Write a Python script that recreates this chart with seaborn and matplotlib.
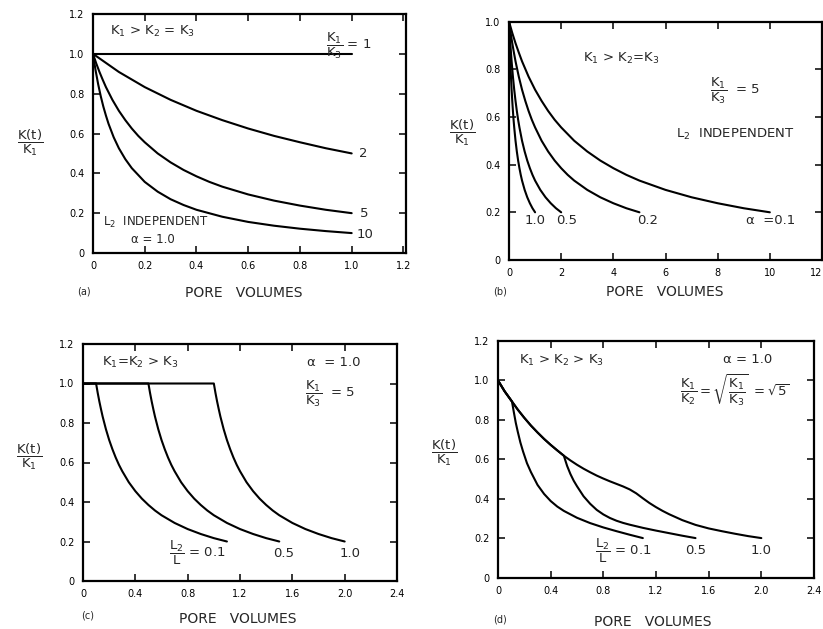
import matplotlib
matplotlib.use("Agg")
import matplotlib.pyplot as plt
import seaborn as sns

# ---------------------------------------------------------------------------
# Panel (a): K1 > K2 = K3, L2 independent, alpha = 1.0 ; curves labelled K1/K3
# ---------------------------------------------------------------------------
a_x_r1 = [0.0, 1.0]
a_y_r1 = [1.0, 1.0]
a_x_r2 = [0.0, 0.1, 0.2, 0.3, 0.4, 0.5, 0.6, 0.7, 0.8, 0.9, 1.0]
a_y_r2 = [1.0, 0.909, 0.833, 0.769, 0.714, 0.667, 0.625, 0.588, 0.556, 0.526, 0.500]
a_x_r5 = [0.0, 0.0125, 0.025, 0.0375, 0.05, 0.075, 0.1, 0.125, 0.15, 0.175, 0.2,
          0.25, 0.3, 0.35, 0.4, 0.45, 0.5, 0.6, 0.7, 0.8, 0.9, 1.0]
a_y_r5 = [1.0, 0.952, 0.909, 0.870, 0.833, 0.769, 0.714, 0.667, 0.625, 0.588, 0.556,
          0.500, 0.455, 0.417, 0.385, 0.357, 0.333, 0.294, 0.263, 0.238, 0.217, 0.200]
a_x_r10 = [0.0, 0.005, 0.01, 0.02, 0.03, 0.04, 0.05, 0.06, 0.08, 0.1, 0.125, 0.15,
           0.2, 0.25, 0.3, 0.35, 0.4, 0.5, 0.6, 0.7, 0.8, 0.9, 1.0]
a_y_r10 = [1.0, 0.957, 0.917, 0.847, 0.787, 0.735, 0.690, 0.649, 0.581, 0.526, 0.471,
           0.426, 0.357, 0.308, 0.270, 0.241, 0.217, 0.182, 0.156, 0.137, 0.122, 0.110,
           0.100]
a_curve_labels = ["2", "5", "10"]
a_xticks = [0, 0.2, 0.4, 0.6, 0.8, 1.0, 1.2]
a_xticklabels = ["0", "0.2", "0.4", "0.6", "0.8", "1.0", "1.2"]
a_yticks = [0, 0.2, 0.4, 0.6, 0.8, 1.0, 1.2]
a_yticklabels = ["0", "0.2", "0.4", "0.6", "0.8", "1.0", "1.2"]

# ---------------------------------------------------------------------------
# Panel (b): K1 > K2 = K3, K1/K3 = 5, L2 independent ; curves labelled alpha
# ---------------------------------------------------------------------------
b_y = [1.0, 0.952, 0.909, 0.870, 0.833, 0.769, 0.714, 0.667, 0.625, 0.588, 0.556,
       0.500, 0.455, 0.417, 0.385, 0.357, 0.333, 0.294, 0.263, 0.238, 0.217, 0.200]
b_x_alpha10 = [0.0, 0.0125, 0.025, 0.0375, 0.05, 0.075, 0.1, 0.125, 0.15, 0.175, 0.2,
               0.25, 0.3, 0.35, 0.4, 0.45, 0.5, 0.6, 0.7, 0.8, 0.9, 1.0]
b_x_alpha05 = [0.0, 0.025, 0.05, 0.075, 0.1, 0.15, 0.2, 0.25, 0.3, 0.35, 0.4,
               0.5, 0.6, 0.7, 0.8, 0.9, 1.0, 1.2, 1.4, 1.6, 1.8, 2.0]
b_x_alpha02 = [0.0, 0.0625, 0.125, 0.1875, 0.25, 0.375, 0.5, 0.625, 0.75, 0.875, 1.0,
               1.25, 1.5, 1.75, 2.0, 2.25, 2.5, 3.0, 3.5, 4.0, 4.5, 5.0]
b_x_alpha01 = [0.0, 0.125, 0.25, 0.375, 0.5, 0.75, 1.0, 1.25, 1.5, 1.75, 2.0,
               2.5, 3.0, 3.5, 4.0, 4.5, 5.0, 6.0, 7.0, 8.0, 9.0, 10.0]
b_curve_labels = ["1.0", "0.5", "0.2", "α  =0.1"]
b_xticks = [0, 2, 4, 6, 8, 10, 12]
b_xticklabels = ["0", "2", "4", "6", "8", "10", "12"]
b_yticks = [0, 0.2, 0.4, 0.6, 0.8, 1.0]
b_yticklabels = ["0", "0.2", "0.4", "0.6", "0.8", "1.0"]

# ---------------------------------------------------------------------------
# Panel (c): K1 = K2 > K3, alpha = 1.0, K1/K3 = 5 ; curves labelled L2/L
# ---------------------------------------------------------------------------
c_y = [1.0, 1.0, 0.952, 0.909, 0.870, 0.833, 0.769, 0.714, 0.667, 0.625, 0.588, 0.556,
       0.500, 0.455, 0.417, 0.385, 0.357, 0.333, 0.294, 0.263, 0.238, 0.217, 0.200]
c_x_l01 = [0.0, 0.1, 0.1125, 0.125, 0.1375, 0.15, 0.175, 0.2, 0.225, 0.25, 0.275, 0.3,
           0.35, 0.4, 0.45, 0.5, 0.55, 0.6, 0.7, 0.8, 0.9, 1.0, 1.1]
c_x_l05 = [0.0, 0.5, 0.5125, 0.525, 0.5375, 0.55, 0.575, 0.6, 0.625, 0.65, 0.675, 0.7,
           0.75, 0.8, 0.85, 0.9, 0.95, 1.0, 1.1, 1.2, 1.3, 1.4, 1.5]
c_x_l10 = [0.0, 1.0, 1.0125, 1.025, 1.0375, 1.05, 1.075, 1.1, 1.125, 1.15, 1.175, 1.2,
           1.25, 1.3, 1.35, 1.4, 1.45, 1.5, 1.6, 1.7, 1.8, 1.9, 2.0]
c_curve_labels = ["0.5", "1.0"]
cd_xticks = [0, 0.4, 0.8, 1.2, 1.6, 2.0, 2.4]
cd_xticklabels = ["0", "0.4", "0.8", "1.2", "1.6", "2.0", "2.4"]
cd_yticks = [0, 0.2, 0.4, 0.6, 0.8, 1.0, 1.2]
cd_yticklabels = ["0", "0.2", "0.4", "0.6", "0.8", "1.0", "1.2"]

# ---------------------------------------------------------------------------
# Panel (d): K1 > K2 > K3, alpha = 1.0 ; curves labelled L2/L
# ---------------------------------------------------------------------------
d_x_l10 = [0.0, 0.05, 0.106, 0.15, 0.2, 0.25, 0.3, 0.35, 0.4, 0.45, 0.5, 0.55, 0.6,
           0.65, 0.7, 0.75, 0.8, 0.85, 0.9, 0.95, 1.0, 1.05, 1.1, 1.15, 1.2, 1.25, 1.3,
           1.4, 1.5, 1.6, 1.7, 1.8, 1.9, 2.0]
d_y_l10 = [1.0, 0.945, 0.893, 0.852, 0.810, 0.771, 0.736, 0.703, 0.673, 0.645, 0.618,
           0.594, 0.572, 0.552, 0.534, 0.517, 0.502, 0.488, 0.475, 0.462, 0.447, 0.427,
           0.402, 0.378, 0.357, 0.338, 0.321, 0.291, 0.267, 0.249, 0.235, 0.222, 0.210,
           0.200]
d_x_l05 = [0.0, 0.05, 0.106, 0.15, 0.2, 0.25, 0.3, 0.35, 0.4, 0.45, 0.5, 0.525, 0.55,
           0.575, 0.6, 0.65, 0.7, 0.75, 0.8, 0.85, 0.9, 0.95, 1.0, 1.1, 1.2, 1.3, 1.4,
           1.5]
d_y_l05 = [1.0, 0.945, 0.893, 0.852, 0.810, 0.771, 0.736, 0.703, 0.673, 0.645, 0.618,
           0.566, 0.525, 0.491, 0.463, 0.412, 0.374, 0.343, 0.320, 0.302, 0.288, 0.277,
           0.268, 0.252, 0.238, 0.225, 0.212, 0.200]
d_x_l01 = [0.0, 0.05, 0.106, 0.12, 0.135, 0.15, 0.17, 0.19, 0.22, 0.25, 0.3, 0.35, 0.4,
           0.45, 0.5, 0.6, 0.7, 0.8, 0.9, 1.0, 1.1]
d_y_l01 = [1.0, 0.945, 0.893, 0.840, 0.785, 0.740, 0.685, 0.640, 0.580, 0.535, 0.470,
           0.424, 0.388, 0.360, 0.338, 0.303, 0.276, 0.254, 0.235, 0.217, 0.200]
d_curve_labels = ["0.5", "1.0"]

# ---------------------------------------------------------------------------
sns.set_style("ticks")
plt.rcParams["font.family"] = ["DejaVu Sans"]
plt.rcParams["mathtext.fontset"] = "dejavusans"

W, H = 823, 629
fig = plt.figure(figsize=(W / 100, H / 100), dpi=100)
fig.patch.set_facecolor("white")


def px_axes(left, right, top, bottom):
    return fig.add_axes([left / W, 1 - bottom / H, (right - left) / W, (bottom - top) / H])


LW = 1.5
TXT = 9.5


def curve(ax, x, y):
    sns.lineplot(x=x, y=y, ax=ax, color="black", linewidth=LW,
                 estimator=None, sort=False, legend=False)


def style_axes(ax, xlim, ylim, xticks, xlabels, yticks, ylabels):
    ax.set_xlim(*xlim)
    ax.set_ylim(*ylim)
    ax.set_xticks(xticks)
    ax.set_xticklabels(xlabels)
    ax.set_yticks(yticks)
    ax.set_yticklabels(ylabels)
    ax.tick_params(direction="in", length=5, width=1.1, top=True, right=True,
                   labelsize=7, pad=6, colors="black")
    for s in ax.spines.values():
        s.set_linewidth(1.6)
        s.set_color("black")
        s.set_visible(True)
    ax.set_xlabel("")
    ax.set_ylabel("")
    ax.set_facecolor("white")


def frac(num, den):
    return r"$\dfrac{\mathrm{%s}}{\mathrm{%s}}$" % (num, den)


YLAB = frac("K(t)", "K_1")


def fig_text(x, y, s, **kw):
    fig.text(x / W, 1 - y / H, s, **kw)


# ---------------- panel (a) ----------------
ax = px_axes(93, 406, 14, 253)
curve(ax, a_x_r1, a_y_r1)
curve(ax, a_x_r2, a_y_r2)
curve(ax, a_x_r5, a_y_r5)
curve(ax, a_x_r10, a_y_r10)
style_axes(ax, (0, 1.21), (0, 1.2), a_xticks, a_xticklabels, a_yticks, a_yticklabels)
ax.text(0.065, 1.11, r"K$_1$ > K$_2$ = K$_3$", fontsize=TXT, ha="left", va="center")
ax.text(0.90, 1.04, frac("K_1", "K_3") + " = 1", fontsize=TXT, ha="left", va="center")
ax.text(1.03, a_y_r2[-1], a_curve_labels[0], fontsize=TXT, ha="left", va="center")
ax.text(1.03, a_y_r5[-1], a_curve_labels[1], fontsize=TXT, ha="left", va="center")
ax.text(1.02, a_y_r10[-1] - 0.008, a_curve_labels[2], fontsize=TXT, ha="left", va="center")
ax.text(0.04, 0.155, r"L$_2$  INDEPENDENT", fontsize=8.5, ha="left", va="center")
ax.text(0.145, 0.07, "α = 1.0", fontsize=8.5, ha="left", va="center")
fig_text(30, 143, YLAB, fontsize=9.5, ha="center", va="center")
fig_text(84, 292, "(a)", fontsize=7, ha="center", va="center")
fig_text(244, 293, "PORE   VOLUMES", fontsize=10, ha="center", va="center")

# ---------------- panel (b) ----------------
ax = px_axes(509, 822, 21.5, 260)
curve(ax, b_x_alpha10, b_y)
curve(ax, b_x_alpha05, b_y)
curve(ax, b_x_alpha02, b_y)
curve(ax, b_x_alpha01, b_y)
style_axes(ax, (0, 12), (0, 1.0), b_xticks, b_xticklabels, b_yticks, b_yticklabels)
ax.get_xticklabels()[-1].set_horizontalalignment("right")
ax.text(2.85, 0.845, r"K$_1$ > K$_2$=K$_3$", fontsize=TXT, ha="left", va="center")
ax.text(7.7, 0.71, frac("K_1", "K_3") + "  = 5", fontsize=TXT, ha="left", va="center")
ax.text(6.4, 0.527, r"L$_2$  INDEPENDENT", fontsize=TXT, ha="left", va="center")
ax.text(b_x_alpha10[-1], 0.165, b_curve_labels[0], fontsize=TXT, ha="center", va="center")
ax.text(b_x_alpha05[-1] + 0.2, 0.165, b_curve_labels[1], fontsize=TXT, ha="center", va="center")
ax.text(b_x_alpha02[-1] + 0.3, 0.165, b_curve_labels[2], fontsize=TXT, ha="center", va="center")
ax.text(9.1, 0.165, b_curve_labels[3], fontsize=TXT, ha="left", va="center")
fig_text(462, 133, YLAB, fontsize=9.5, ha="center", va="center")
fig_text(500, 291, "(b)", fontsize=7, ha="center", va="center")
fig_text(665, 292, "PORE   VOLUMES", fontsize=10, ha="center", va="center")

# ---------------- panel (c) ----------------
ax = px_axes(83, 397, 344, 581)
curve(ax, c_x_l01, c_y)
curve(ax, c_x_l05, c_y)
curve(ax, c_x_l10, c_y)
style_axes(ax, (0, 2.4), (0, 1.2), cd_xticks, cd_xticklabels, cd_yticks, cd_yticklabels)
ax.text(0.145, 1.106, r"K$_1$=K$_2$ > K$_3$", fontsize=TXT, ha="left", va="center")
ax.text(1.71, 1.106, "α  = 1.0", fontsize=TXT, ha="left", va="center")
ax.text(1.70, 0.95, frac("K_1", "K_3") + "  = 5", fontsize=TXT, ha="left", va="center")
ax.text(0.66, 0.14, frac("L_2", "L") + " = 0.1", fontsize=TXT, ha="left", va="center")
ax.text(c_x_l05[-1] + 0.03, 0.14, c_curve_labels[0], fontsize=TXT, ha="center", va="center")
ax.text(c_x_l10[-1] + 0.04, 0.14, c_curve_labels[1], fontsize=TXT, ha="center", va="center")
fig_text(29, 457, YLAB, fontsize=9.5, ha="center", va="center")
fig_text(88, 615, "(c)", fontsize=7, ha="center", va="center")
fig_text(238, 619, "PORE   VOLUMES", fontsize=10, ha="center", va="center")

# ---------------- panel (d) ----------------
ax = px_axes(498, 814, 341, 577.5)
curve(ax, d_x_l10, d_y_l10)
curve(ax, d_x_l05, d_y_l05)
curve(ax, d_x_l01, d_y_l01)
style_axes(ax, (0, 2.4), (0, 1.2), cd_xticks, cd_xticklabels, cd_yticks, cd_yticklabels)
ax.text(0.16, 1.10, r"K$_1$ > K$_2$ > K$_3$", fontsize=TXT, ha="left", va="center")
ax.text(1.71, 1.106, "α = 1.0", fontsize=TXT, ha="left", va="center")
ax.text(1.38, 0.95,
        r"$\dfrac{\mathrm{K_1}}{\mathrm{K_2}} = \sqrt{\dfrac{\mathrm{K_1}}{\mathrm{K_3}}}\ = \sqrt{5}$",
        fontsize=TXT, ha="left", va="center")
ax.text(0.74, 0.135, frac("L_2", "L") + " = 0.1", fontsize=TXT, ha="left", va="center")
ax.text(d_x_l05[-1], 0.135, d_curve_labels[0], fontsize=TXT, ha="center", va="center")
ax.text(d_x_l10[-1], 0.135, d_curve_labels[1], fontsize=TXT, ha="center", va="center")
fig_text(444, 453, YLAB, fontsize=9.5, ha="center", va="center")
fig_text(500, 620, "(d)", fontsize=7, ha="center", va="center")
fig_text(653, 622, "PORE   VOLUMES", fontsize=10, ha="center", va="center")

fig.savefig("out.png", dpi=100, facecolor="white")
